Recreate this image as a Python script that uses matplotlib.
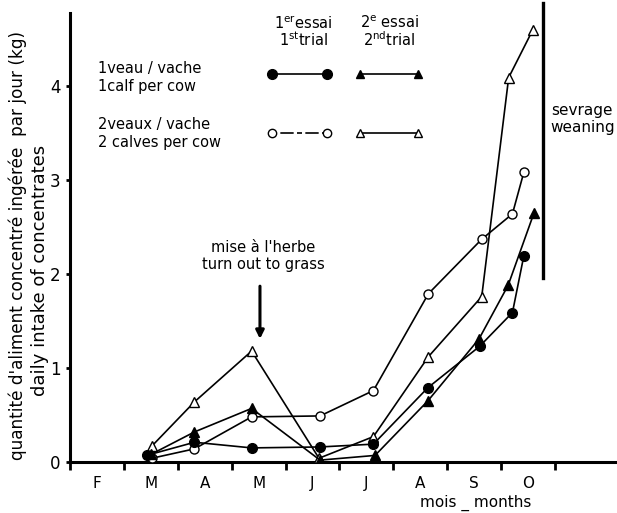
import matplotlib
matplotlib.use("Agg")
import matplotlib.pyplot as plt

plt.rcParams['font.family'] = 'DejaVu Sans'
plt.rcParams['mathtext.default'] = 'regular'

months = ['F', 'M', 'A', 'M', 'J', 'J', 'A', 'S', 'O']
month_pos = [2.5, 3.5, 4.5, 5.5, 6.5, 7.5, 8.5, 9.5, 10.5]

# 1st trial, 1 calf per cow (filled circles)
x_c1 = [3.42, 4.31, 5.37, 6.64, 7.63, 8.64, 9.60, 10.21, 10.42]
y_c1 = [0.07, 0.21, 0.15, 0.16, 0.19, 0.79, 1.23, 1.59, 2.19]
# 1st trial, 2 calves per cow (open circles)
x_c2 = [3.52, 4.31, 5.37, 6.64, 7.63, 8.65, 9.64, 10.21, 10.42]
y_c2 = [0.04, 0.14, 0.48, 0.49, 0.76, 1.79, 2.37, 2.64, 3.08]
# 2nd trial, 1 calf per cow (filled triangles)
x_t1 = [3.50, 4.31, 5.37, 6.64, 7.66, 8.64, 9.59, 10.13, 10.61]
y_t1 = [0.08, 0.32, 0.57, 0.02, 0.07, 0.65, 1.31, 1.88, 2.65]
# 2nd trial, 2 calves per cow (open triangles)
x_t2 = [3.52, 4.31, 5.37, 6.62, 7.63, 8.65, 9.64, 10.14, 10.59]
y_t2 = [0.17, 0.64, 1.18, 0.04, 0.27, 1.12, 1.76, 4.09, 4.60]

weaning_x = 10.78

fig = plt.figure(figsize=(6.17, 5.13), dpi=100)
ax = fig.add_axes([70/617, 51/513, 547/617, 449.3/513])

lw = 1.2
ax.plot(x_c2, y_c2, color='black', lw=lw, marker='o', ms=6.5, mfc='white', mec='black', mew=1.0, zorder=3)
ax.plot(x_t2, y_t2, color='black', lw=lw, marker='^', ms=6.5, mfc='white', mec='black', mew=1.0, zorder=3)
ax.plot(x_t1, y_t1, color='black', lw=lw, marker='^', ms=6.5, mfc='black', mec='black', zorder=4)
ax.plot(x_c1, y_c1, color='black', lw=lw, marker='o', ms=7, mfc='black', mec='black', zorder=4)

ax.set_xlim(2.0, 12.15)
ax.set_ylim(0, 4.78)

for s in ['top', 'right']:
    ax.spines[s].set_visible(False)
for s in ['left', 'bottom']:
    ax.spines[s].set_linewidth(2.2)

ax.set_yticks([0, 1, 2, 3, 4])
ax.set_yticklabels(['0', '1', '2', '3', '4'], fontsize=12)
ax.tick_params(axis='y', direction='out', length=3, width=2, pad=4)
ax.set_xticks(range(2, 12))
ax.set_xticklabels([])
ax.tick_params(axis='x', which='major', direction='out', length=6, width=2)
ax.set_xticks(month_pos, minor=True)
ax.set_xticklabels(months, minor=True, fontsize=11)
ax.tick_params(axis='x', which='minor', length=0, pad=10)

ax.text(9.53, -0.43, 'mois _ months', ha='center', va='center', fontsize=11)

# weaning line
ax.plot([weaning_x, weaning_x], [1.96, 4.88], color='black', lw=2.4, clip_on=False)
ax.text(10.92, 3.74, 'sevrage', ha='left', va='center', fontsize=11)
ax.text(10.92, 3.56, 'weaning', ha='left', va='center', fontsize=11)

# turn out to grass
ax.annotate('', xy=(5.525, 1.28), xytext=(5.525, 1.90),
            arrowprops=dict(arrowstyle='-|>', color='black', lw=2.2, mutation_scale=12))
ax.text(5.58, 2.28, "mise à l'herbe", ha='center', va='center', fontsize=10.5)
ax.text(5.58, 2.10, 'turn out to grass', ha='center', va='center', fontsize=10.5)

# y label
fig.text(18/617, 1 - 245/513, "quantité d'aliment concentré ingérée  par jour (kg)",
         rotation=90, ha='center', va='center', fontsize=12.2)
fig.text(40/617, 1 - 270/513, 'daily intake of concentrates',
         rotation=90, ha='center', va='center', fontsize=13)

# legend block
def fx(px):
    return px / 617
def fy(py):
    return 1 - py / 513

fig.text(fx(303), fy(23), r'1$^{er}$essai', ha='center', va='center', fontsize=10.5)
fig.text(fx(303), fy(40), r'1$^{st}$trial', ha='center', va='center', fontsize=10.5)
fig.text(fx(389), fy(23), r'2$^{e}$ essai', ha='center', va='center', fontsize=10.5)
fig.text(fx(389), fy(40), r'2$^{nd}$trial', ha='center', va='center', fontsize=10.5)
fig.text(fx(98), fy(68), '1veau / vache', ha='left', va='center', fontsize=10.5)
fig.text(fx(98), fy(86), '1calf per cow', ha='left', va='center', fontsize=10.5)
fig.text(fx(98), fy(124), '2veaux / vache', ha='left', va='center', fontsize=10.5)
fig.text(fx(98), fy(143), '2 calves per cow', ha='left', va='center', fontsize=10.5)

fig.lines.append(plt.Line2D([fx(272), fx(327)], [fy(74), fy(74)], transform=fig.transFigure,
                            color='black', lw=lw, marker='o', ms=7, mfc='black', mec='black'))
fig.lines.append(plt.Line2D([fx(360), fx(418)], [fy(74), fy(74)], transform=fig.transFigure,
                            color='black', lw=lw, marker='^', ms=6, mfc='black', mec='black'))
fig.lines.append(plt.Line2D([fx(272), fx(327)], [fy(133), fy(133)], transform=fig.transFigure,
                            color='black', lw=lw, ls=(0, (3, 2, 8, 2)), marker='o', ms=6,
                            mfc='white', mec='black', mew=1.0))
fig.lines.append(plt.Line2D([fx(360), fx(418)], [fy(133), fy(133)], transform=fig.transFigure,
                            color='black', lw=lw, marker='^', ms=6, mfc='white', mec='black', mew=1.0))

fig.savefig('out.png', dpi=100)
